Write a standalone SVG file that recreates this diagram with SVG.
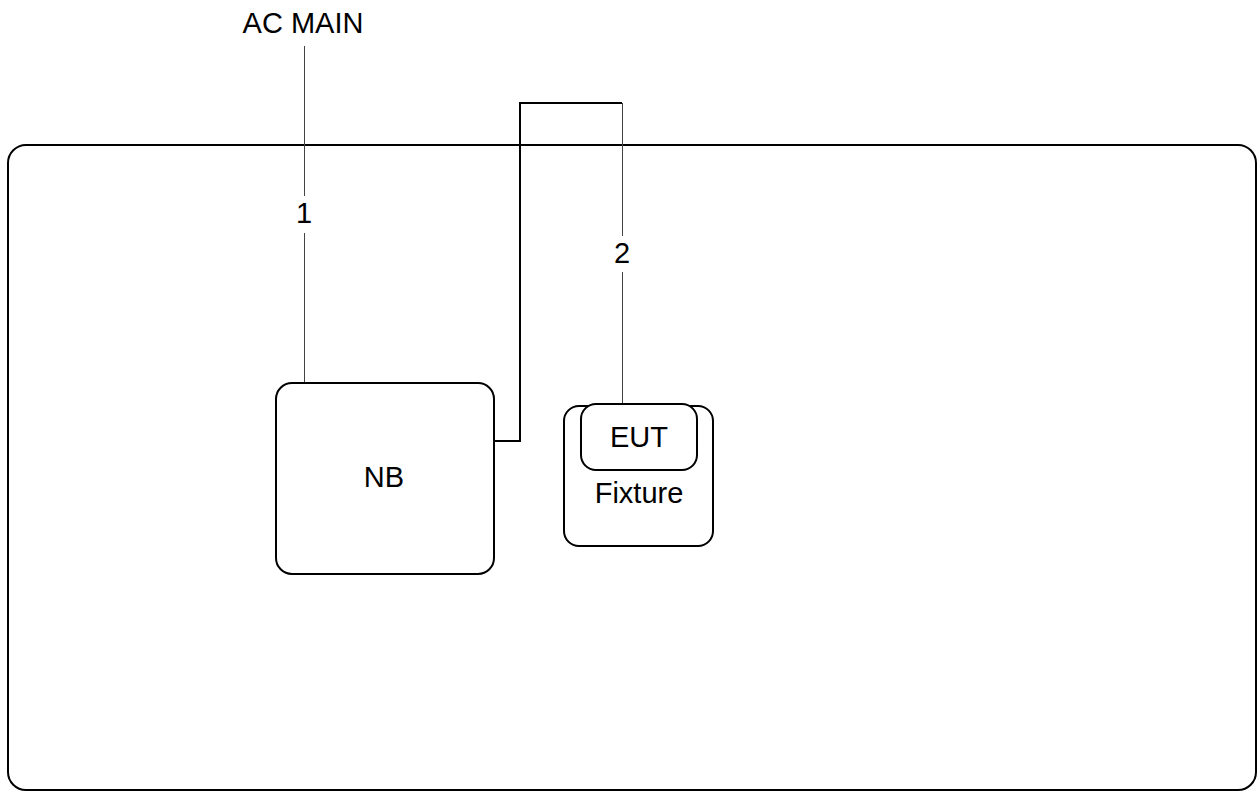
<svg xmlns="http://www.w3.org/2000/svg" width="1259" height="792" viewBox="0 0 1259 792">
<style>
.box{fill:#fff;stroke:#000;stroke-width:2}
.thin{fill:none;stroke:#444;stroke-width:1}
.thick{fill:none;stroke:#000;stroke-width:2}
text{font-family:"Liberation Sans",Arial,sans-serif;font-size:29px;fill:#000;text-anchor:middle}
</style>
<rect width="1259" height="792" fill="#fff"/>
<g id="room"><rect class="box" x="8" y="145" width="1248" height="645" rx="18"/></g>
<g id="connectors">
<line class="thin" x1="304.5" y1="46" x2="304.5" y2="196"/>
<line class="thin" x1="304.5" y1="233" x2="304.5" y2="383"/>
<polyline class="thick" points="494,441 520,441 520,103 622,103"/>
<line class="thin" x1="622.5" y1="103" x2="622.5" y2="236"/>
<line class="thin" x1="622.5" y1="272" x2="622.5" y2="405"/>
<text x="304" y="223">1</text>
<text x="622" y="263">2</text>
</g>
<g id="acmain"><text x="303" y="33">AC MAIN</text></g>
<g id="nb"><rect class="box" x="276" y="383" width="218" height="191" rx="16"/><text x="384" y="487">NB</text></g>
<g id="fixture"><rect class="box" x="564" y="406" width="149" height="140" rx="15"/><text x="639" y="503">Fixture</text></g>
<g id="eut"><rect class="box" x="581" y="404" width="116" height="66" rx="15"/><text x="639" y="447">EUT</text></g>
</svg>
